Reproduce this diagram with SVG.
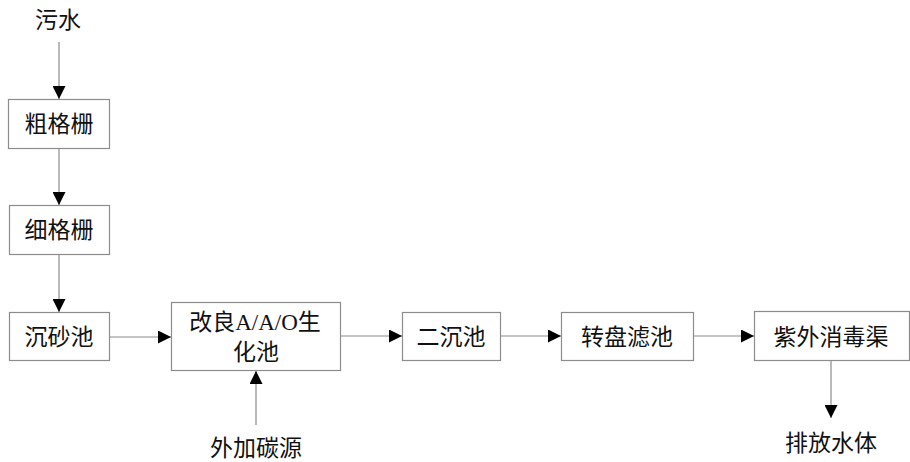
<svg xmlns="http://www.w3.org/2000/svg" width="910" height="462" viewBox="0 0 910 462">
<style>
.box{fill:#fff;stroke:#8c8c8c;stroke-width:1.2}
.ln{stroke:#8c8c8c;stroke-width:1.2;fill:none}
text{font-family:"Liberation Serif","Noto Sans CJK SC",serif;font-size:23px;fill:#111;text-anchor:middle}
</style>
<defs>
<marker id="ah" viewBox="0 0 10 10" refX="10" refY="5" markerWidth="13" markerHeight="13" markerUnits="userSpaceOnUse" orient="auto">
<path d="M0,0 L10,5 L0,10 Z" fill="#000"/>
</marker>
</defs>
<g id="connectors">
<line class="ln" x1="59" y1="42" x2="59" y2="99" marker-end="url(#ah)"/>
<line class="ln" x1="59" y1="148" x2="59" y2="205" marker-end="url(#ah)"/>
<line class="ln" x1="59" y1="254" x2="59" y2="312" marker-end="url(#ah)"/>
<line class="ln" x1="110" y1="337" x2="171" y2="337" marker-end="url(#ah)"/>
<line class="ln" x1="341" y1="336" x2="402" y2="336" marker-end="url(#ah)"/>
<line class="ln" x1="501" y1="336" x2="561" y2="336" marker-end="url(#ah)"/>
<line class="ln" x1="694" y1="336" x2="754" y2="336" marker-end="url(#ah)"/>
<line class="ln" x1="831" y1="361" x2="831" y2="418" marker-end="url(#ah)"/>
<line class="ln" x1="256" y1="425" x2="256" y2="371" marker-end="url(#ah)"/>
</g>
<g id="n-wushui"><text x="58" y="28">污水</text></g>
<g id="n-cugeshan"><rect class="box" x="8.5" y="99.5" width="101" height="49"/><text x="59" y="132">粗格栅</text></g>
<g id="n-xigeshan"><rect class="box" x="9.5" y="205.5" width="100" height="49"/><text x="59" y="238">细格栅</text></g>
<g id="n-chenshachi"><rect class="box" x="9.5" y="312.5" width="100" height="48"/><text x="59" y="345">沉砂池</text></g>
<g id="n-aao"><rect class="box" x="171.5" y="302.5" width="169" height="68"/><text x="255" y="330">改良A/A/O生</text><text x="256" y="360">化池</text></g>
<g id="n-erchenchi"><rect class="box" x="402.5" y="312.5" width="98" height="48"/><text x="451" y="345">二沉池</text></g>
<g id="n-zhuanpan"><rect class="box" x="561.5" y="312.5" width="132" height="48"/><text x="627" y="345">转盘滤池</text></g>
<g id="n-ziwai"><rect class="box" x="754.5" y="311.5" width="155" height="49"/><text x="831" y="345">紫外消毒渠</text></g>
<g id="n-paifang"><text x="831" y="451">排放水体</text></g>
<g id="n-tanyuan"><text x="256" y="456">外加碳源</text></g>
</svg>
